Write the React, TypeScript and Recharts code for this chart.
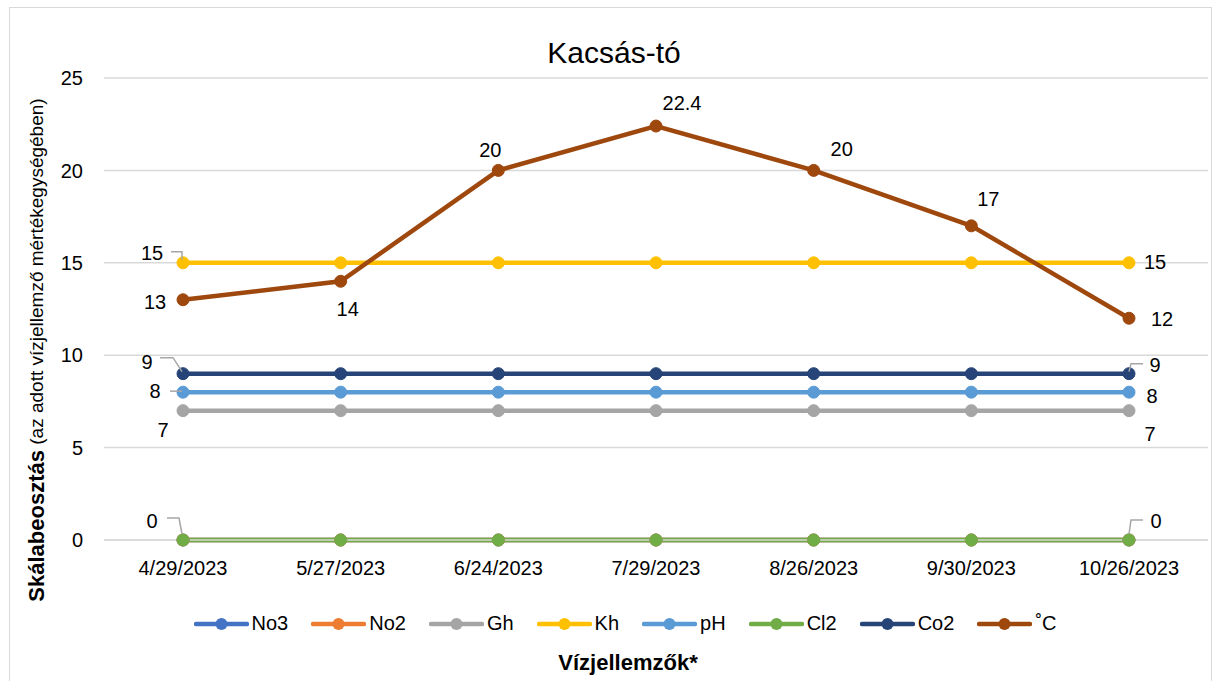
import React from 'react';
import {
  LineChart,
  Line,
  XAxis,
  YAxis,
  CartesianGrid,
  LabelList,
  Label,
} from 'recharts';

const dates = ['4/29/2023', '5/27/2023', '6/24/2023', '7/29/2023', '8/26/2023', '9/30/2023', '10/26/2023'];
const no3 = [0, 0, 0, 0, 0, 0, 0];
const no2 = [0, 0, 0, 0, 0, 0, 0];
const gh = [7, 7, 7, 7, 7, 7, 7];
const kh = [15, 15, 15, 15, 15, 15, 15];
const ph = [8, 8, 8, 8, 8, 8, 8];
const cl2 = [0, 0, 0, 0, 0, 0, 0];
const co2 = [9, 9, 9, 9, 9, 9, 9];
const celsius = [13, 14, 20, 22.4, 20, 17, 12];
const yTicks = [0, 5, 10, 15, 20, 25];

const data = dates.map((date, i) => ({
  date,
  No3: no3[i],
  No2: no2[i],
  Gh: gh[i],
  Kh: kh[i],
  pH: ph[i],
  Cl2: cl2[i],
  Co2: co2[i],
  '˚C': celsius[i],
}));

const series = [
  { key: 'No3', color: '#4472C4' },
  { key: 'No2', color: '#ED7D31' },
  { key: 'Gh', color: '#A5A5A5' },
  { key: 'Kh', color: '#FFC000' },
  { key: 'pH', color: '#5B9BD5' },
  { key: 'Cl2', color: '#70AD47' },
  { key: 'Co2', color: '#264478' },
  { key: '˚C', color: '#9E480E' },
];

const FONT = "'Liberation Sans', Arial, sans-serif";
const TEXT = '#000000';
const LEADER = '#a6a6a6';

type Pos = { dx: number; dy: number; leader?: number[][] };

// label placement relative to the point, keyed by series then point index
const labelPos: Record<string, Record<number, Pos>> = {
  Kh: {
    0: { dx: -31, dy: -10, leader: [[-12, -11], [-1, -11], [-1, -3]] },
    6: { dx: 26, dy: -1 },
  },
  Co2: {
    0: { dx: -36, dy: -12, leader: [[-23, -16], [-10, -16], [-1, -2]] },
    6: { dx: 26, dy: -9, leader: [[0, -2], [2, -10], [14, -10]] },
  },
  pH: {
    0: { dx: -28, dy: -1, leader: [[-13, -1], [-1, -1]] },
    6: { dx: 23, dy: 4 },
  },
  Gh: {
    0: { dx: -20, dy: 19 },
    6: { dx: 21, dy: 23 },
  },
  Cl2: {
    0: { dx: -31, dy: -19, leader: [[-16, -22], [-4, -22], [-1, -6]] },
    6: { dx: 27, dy: -19, leader: [[0, -6], [2, -20], [14, -20]] },
  },
  '˚C': {
    0: { dx: -28, dy: 2 },
    1: { dx: 7, dy: 28 },
    2: { dx: -8, dy: -20 },
    3: { dx: 26, dy: -23 },
    4: { dx: 28, dy: -21 },
    5: { dx: 17, dy: -27 },
    6: { dx: 33, dy: 1 },
  },
};

function makeLabel(key: string) {
  return (props: any) => {
    const { x, y, value, index } = props;
    const pos = labelPos[key]?.[index];
    if (!pos) return null;
    return (
      <g>
        {pos.leader && (
          <polyline
            points={pos.leader.map(([a, b]) => `${x + a},${y + b}`).join(' ')}
            fill="none"
            stroke={LEADER}
            strokeWidth={1.5}
          />
        )}
        <text
          x={x + pos.dx}
          y={y + pos.dy}
          textAnchor="middle"
          dominantBaseline="central"
          fontFamily={FONT}
          fontSize={20}
          fill={TEXT}
        >
          {value}
        </text>
      </g>
    );
  };
}

function ChartLegend() {
  return (
    <div
      style={{
        position: 'absolute',
        left: 0,
        top: 612,
        width: 1250,
        display: 'flex',
        justifyContent: 'center',
        alignItems: 'center',
        gap: 23,
        fontFamily: FONT,
        fontSize: 20,
        color: TEXT,
      }}
    >
      {series.map((s) => (
        <div key={s.key} style={{ display: 'flex', alignItems: 'center', gap: 3 }}>
          <svg width={55} height={14}>
            <line x1={2} y1={7} x2={53} y2={7} stroke={s.color} strokeWidth={4.5} strokeLinecap="round" />
            <circle cx={27.5} cy={7} r={6} fill={s.color} />
          </svg>
          <span>{s.key}</span>
        </div>
      ))}
    </div>
  );
}

function YTitle() {
  const cx = 36;
  const cy = 350;
  return (
    <text
      x={cx}
      y={cy}
      transform={`rotate(-90 ${cx} ${cy})`}
      textAnchor="middle"
      dominantBaseline="central"
      fontFamily={FONT}
      fill={TEXT}
    >
      <tspan fontWeight="bold" fontSize={22}>Skálabeosztás</tspan>
      <tspan fontSize={19}> (az adott vízjellemző mértékegységében)</tspan>
    </text>
  );
}

export default function App() {
  return (
    <div
      style={{
        position: 'fixed',
        left: 0,
        top: 0,
        width: 1215,
        height: 681,
        background: '#ffffff',
        overflow: 'hidden',
      }}
    >
      <div
        style={{
          position: 'absolute',
          left: 9,
          top: 7,
          width: 1203,
          height: 700,
          border: '1.5px solid #d9d9d9',
          boxSizing: 'border-box',
        }}
      />
      <div
        style={{
          position: 'absolute',
          left: 0,
          top: 36,
          width: 1228,
          textAlign: 'center',
          fontFamily: FONT,
          fontSize: 30,
          color: TEXT,
        }}
      >
        Kacsás-tó
      </div>
      <div
        style={{
          position: 'absolute',
          left: 0,
          top: 650,
          width: 1256,
          textAlign: 'center',
          fontFamily: FONT,
          fontWeight: 'bold',
          fontSize: 22,
          color: TEXT,
        }}
      >
        Vízjellemzők*
      </div>
      <ChartLegend />
      <div style={{ position: 'absolute', left: 0, top: 0 }}>
        <LineChart
          width={1215}
          height={681}
          data={data}
          margin={{ top: 78, right: 7, bottom: 111, left: 0 }}
        >
          <CartesianGrid vertical={false} stroke="#d9d9d9" strokeWidth={1.5} />
          <XAxis
            dataKey="date"
            height={30}
            axisLine={{ stroke: '#d9d9d9', strokeWidth: 1.5 }}
            tickLine={false}
            tickSize={0}
            tickMargin={21}
            padding={{ left: 79, right: 79 }}
            tick={{ fontFamily: FONT, fontSize: 20, fill: TEXT }}
            interval={0}
          />
          <YAxis
            width={104}
            domain={[0, 25]}
            ticks={yTicks}
            axisLine={false}
            tickLine={false}
            tickSize={0}
            tickMargin={21}
            tick={{ fontFamily: FONT, fontSize: 20, fill: TEXT }}
          >
            <Label content={<YTitle />} />
          </YAxis>
          {series.map((s) => (
            <Line
              key={s.key}
              dataKey={s.key}
              type="linear"
              stroke={s.color}
              strokeWidth={4.5}
              dot={{ r: 6, fill: s.color, stroke: s.color, strokeWidth: 1 }}
              activeDot={false}
              isAnimationActive={false}
            >
              {labelPos[s.key] && <LabelList dataKey={s.key} content={makeLabel(s.key)} />}
            </Line>
          ))}
        </LineChart>
      </div>
    </div>
  );
}
